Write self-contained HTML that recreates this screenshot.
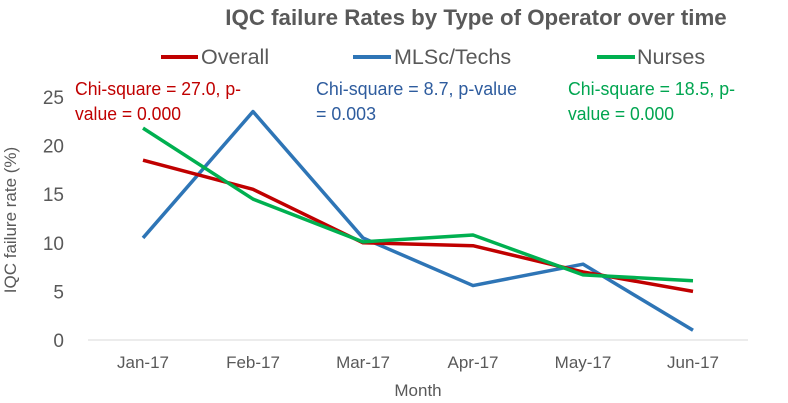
<!DOCTYPE html>
<html><head><meta charset="utf-8"><style>
body{margin:0;background:#fff;}
svg{display:block;font-family:"Liberation Sans",sans-serif;}
</style></head><body>
<svg id="c" width="788" height="403">
<text x="476" y="25" text-anchor="middle" font-size="22.3" font-weight="bold" fill="#595959">IQC failure Rates by Type of Operator over time</text>
<g>
<line x1="161" y1="57" x2="198" y2="57" stroke="#c00000" stroke-width="4"/>
<text x="201" y="64" font-size="21.5" fill="#595959">Overall</text>
<line x1="353" y1="57" x2="391" y2="57" stroke="#2e75b6" stroke-width="4"/>
<text x="394" y="64" font-size="21.5" fill="#595959">MLSc/Techs</text>
<line x1="597" y1="57" x2="635" y2="57" stroke="#00b050" stroke-width="4"/>
<text x="637" y="64" font-size="21.5" fill="#595959">Nurses</text>
</g>
<g font-size="18">
<text x="75" y="95" fill="#c00000" textLength="166" lengthAdjust="spacingAndGlyphs">Chi-square = 27.0, p-</text>
<text x="75" y="120" fill="#c00000" textLength="106" lengthAdjust="spacingAndGlyphs">value = 0.000</text>
<text x="316" y="95" fill="#2e5c9e" textLength="201" lengthAdjust="spacingAndGlyphs">Chi-square = 8.7, p-value</text>
<text x="316" y="120" fill="#2e5c9e" textLength="60" lengthAdjust="spacingAndGlyphs">= 0.003</text>
<text x="568" y="95" fill="#00a550" textLength="167" lengthAdjust="spacingAndGlyphs">Chi-square = 18.5, p-</text>
<text x="568" y="120" fill="#00a550" textLength="106" lengthAdjust="spacingAndGlyphs">value = 0.000</text>
</g>
<text transform="translate(16,220) rotate(-90)" text-anchor="middle" font-size="17" fill="#595959">IQC failure rate (%)</text>
<text x="418" y="396" text-anchor="middle" font-size="17" fill="#595959">Month</text>
<line x1="88" y1="340" x2="748" y2="340" stroke="#d9d9d9" stroke-width="1"/>
<g id="ticks"></g><g id="lines"></g>
</svg>
<script>
const months=["Jan-17","Feb-17","Mar-17","Apr-17","May-17","Jun-17"];
const yTicks=[0,5,10,15,20,25];
const overall=[18.5,15.5,10.0,9.7,7.0,5.0];
const mlsc=[10.5,23.5,10.5,5.6,7.8,1.0];
const nurses=[21.8,14.5,10.1,10.8,6.7,6.1];
const NS="http://www.w3.org/2000/svg";
function xs(i){return 143+i*110;}
function ys(v){return 340-v*(243/25);}
const tg=document.getElementById('ticks');
yTicks.forEach(v=>{const t=document.createElementNS(NS,'text');
t.setAttribute('x',64);t.setAttribute('y',ys(v)+7);t.setAttribute('text-anchor','end');
t.setAttribute('font-size','19');t.setAttribute('fill','#595959');t.textContent=v;


tg.appendChild(t);});
months.forEach((m,i)=>{const t=document.createElementNS(NS,'text');
t.setAttribute('x',xs(i));t.setAttribute('y',368);t.setAttribute('text-anchor','middle');
t.setAttribute('font-size','17');t.setAttribute('fill','#595959');t.textContent=m;


tg.appendChild(t);});
const lg=document.getElementById('lines');
[[mlsc,'#2e75b6','line-mlsc'],[overall,'#c00000','line-overall'],[nurses,'#00b050','line-nurses']].forEach(([d,c,n])=>{
const p=document.createElementNS(NS,'polyline');
p.setAttribute('points',d.map((v,i)=>xs(i)+','+ys(v)).join(' '));
p.setAttribute('fill','none');p.setAttribute('stroke',c);p.setAttribute('stroke-width','3.5');
p.setAttribute('stroke-linejoin','round');


lg.appendChild(p);});
</script>
</body></html>
